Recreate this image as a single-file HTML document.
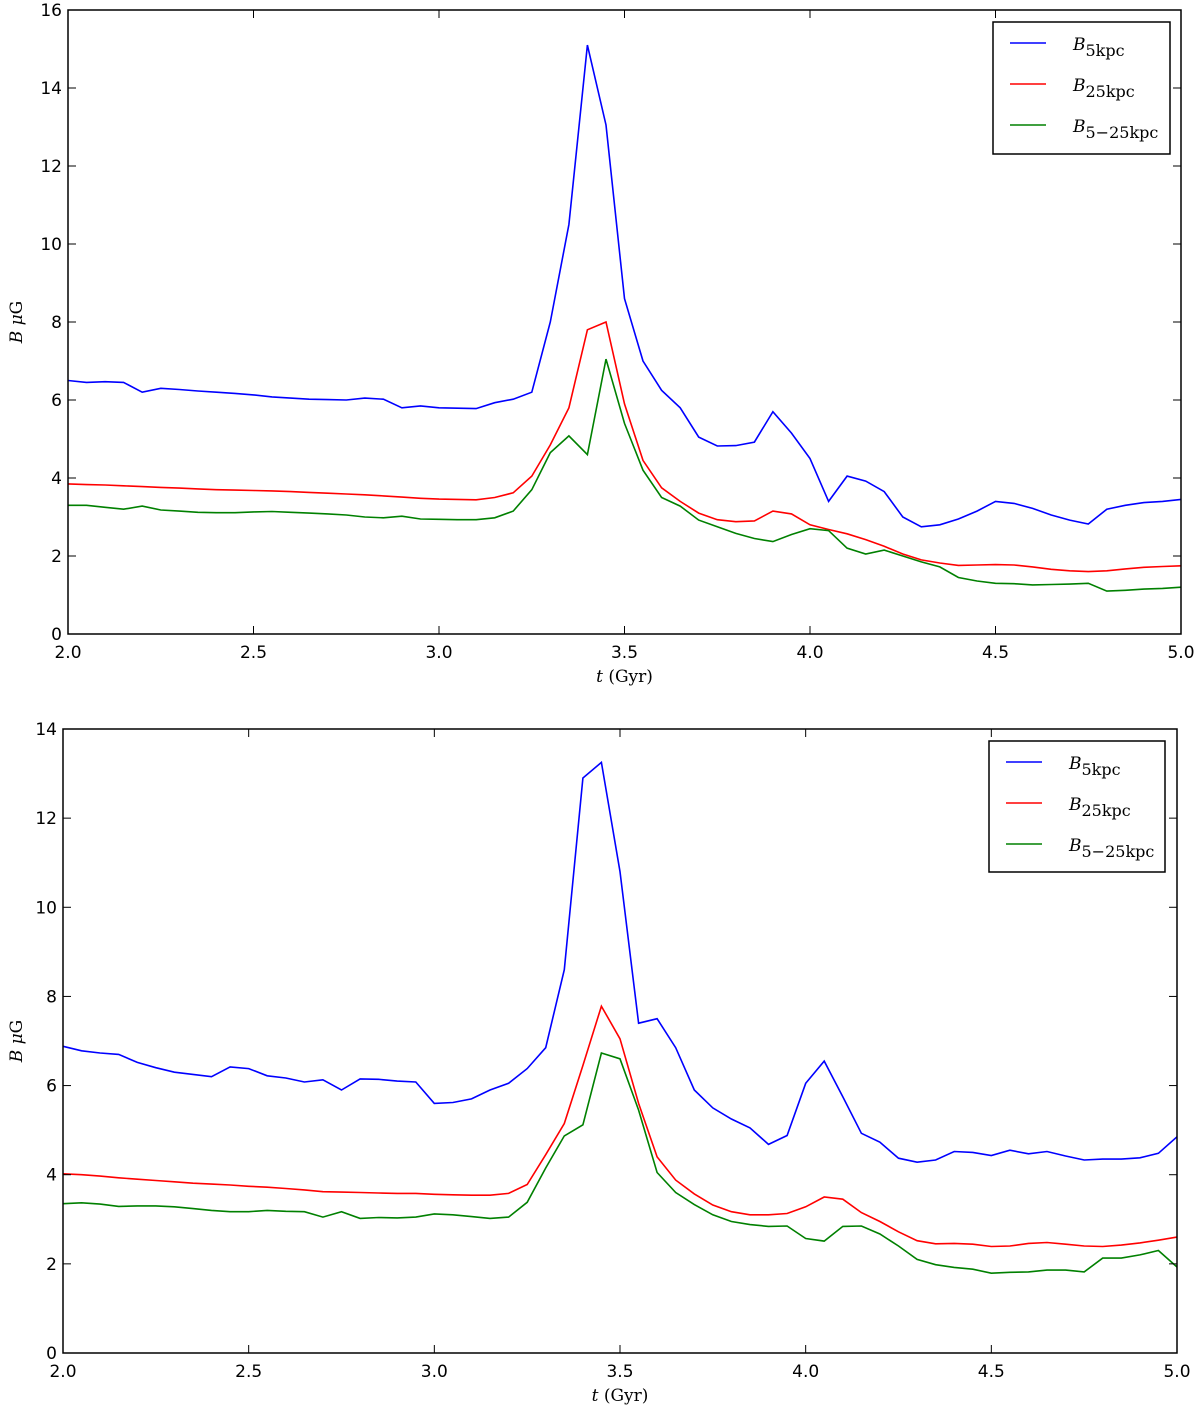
<!DOCTYPE html>
<html><head><meta charset="utf-8"><style>
body{margin:0;background:#fff;}
svg text{font-family:"DejaVu Sans","Liberation Sans",sans-serif;font-size:17px;fill:#000;}
.serif{font-family:"DejaVu Serif","Liberation Serif",serif;}
</style></head><body>
<svg id="chart" width="1200" height="1411" xmlns="http://www.w3.org/2000/svg"></svg>
<script>
const tStart = 2.0, tStep = 0.05;
const xTicks = [2.0,2.5,3.0,3.5,4.0,4.5,5.0];
const topYTicks = [0,2,4,6,8,10,12,14,16];
const botYTicks = [0,2,4,6,8,10,12,14];
const seriesNames = ["B5kpc","B25kpc","B5-25kpc"];
const colors = ["#0000ff","#ff0000","#008000"];
const top5 = [6.5,6.45,6.47,6.45,6.2,6.3,6.27,6.23,6.2,6.17,6.13,6.08,6.05,6.02,6.01,6.0,6.05,6.02,5.8,5.85,5.8,5.79,5.78,5.93,6.02,6.2,8.0,10.5,15.1,13.05,8.6,7.0,6.25,5.8,5.05,4.82,4.83,4.92,5.7,5.15,4.5,3.4,4.05,3.92,3.65,3.0,2.75,2.8,2.95,3.15,3.4,3.35,3.22,3.05,2.92,2.82,3.2,3.3,3.37,3.4,3.45];
const top25 = [3.85,3.83,3.82,3.8,3.78,3.76,3.74,3.72,3.7,3.69,3.68,3.67,3.65,3.63,3.61,3.59,3.57,3.54,3.51,3.48,3.46,3.45,3.44,3.5,3.62,4.05,4.85,5.8,7.8,8.0,5.9,4.45,3.75,3.4,3.1,2.93,2.88,2.9,3.15,3.08,2.8,2.68,2.57,2.42,2.25,2.05,1.9,1.82,1.76,1.77,1.78,1.77,1.72,1.66,1.62,1.6,1.62,1.67,1.71,1.73,1.75];
const top525 = [3.3,3.3,3.25,3.2,3.28,3.18,3.15,3.12,3.11,3.11,3.13,3.14,3.12,3.1,3.08,3.05,3.0,2.98,3.02,2.95,2.94,2.93,2.93,2.98,3.15,3.7,4.65,5.08,4.6,7.05,5.4,4.2,3.5,3.28,2.92,2.75,2.58,2.45,2.37,2.55,2.7,2.65,2.2,2.05,2.15,2.0,1.85,1.72,1.45,1.36,1.3,1.29,1.26,1.27,1.28,1.3,1.1,1.12,1.15,1.17,1.2];
const bot5 = [6.88,6.78,6.73,6.7,6.52,6.4,6.3,6.25,6.2,6.42,6.38,6.22,6.17,6.08,6.13,5.9,6.15,6.14,6.1,6.08,5.6,5.62,5.7,5.9,6.05,6.38,6.85,8.6,12.9,13.25,10.8,7.4,7.5,6.85,5.9,5.5,5.25,5.05,4.68,4.88,6.05,6.55,5.75,4.93,4.73,4.37,4.28,4.33,4.52,4.5,4.43,4.55,4.47,4.52,4.42,4.33,4.35,4.35,4.38,4.48,4.85];
const bot25 = [4.02,4.0,3.97,3.93,3.9,3.87,3.84,3.81,3.79,3.77,3.74,3.72,3.69,3.66,3.62,3.61,3.6,3.59,3.58,3.58,3.56,3.55,3.54,3.54,3.58,3.78,4.45,5.15,6.45,7.78,7.05,5.6,4.4,3.88,3.57,3.32,3.17,3.1,3.1,3.13,3.28,3.5,3.45,3.15,2.95,2.72,2.52,2.45,2.46,2.44,2.39,2.4,2.46,2.48,2.44,2.4,2.39,2.42,2.47,2.53,2.6];
const bot525 = [3.35,3.37,3.34,3.29,3.3,3.3,3.28,3.24,3.2,3.17,3.17,3.2,3.18,3.17,3.05,3.17,3.02,3.04,3.03,3.05,3.12,3.1,3.06,3.02,3.05,3.38,4.15,4.87,5.12,6.73,6.6,5.45,4.05,3.6,3.33,3.1,2.95,2.88,2.84,2.85,2.57,2.51,2.84,2.85,2.67,2.4,2.1,1.98,1.92,1.88,1.79,1.81,1.82,1.86,1.86,1.82,2.13,2.13,2.2,2.3,1.93];

const NS="http://www.w3.org/2000/svg";
const svg=document.getElementById('chart');
function mk(tag,attrs,parent){const e=document.createElementNS(NS,tag);for(const k in attrs)e.setAttribute(k,attrs[k]);(parent||svg).appendChild(e);return e;}

function panel(id,x0,x1,y0,y1,ymax,yTicks,data,legend){
  const g=mk('g',{});
  
  
  const X=t=>x0+(t-2)/(3)*(x1-x0);
  const Y=v=>y1-v/ymax*(y1-y0);
  data.forEach((arr,si)=>{
    const pts=arr.map((v,i)=>X(tStart+i*tStep).toFixed(1)+','+Y(v).toFixed(1)).join(' ');
    const p=mk('polyline',{points:pts,fill:'none',stroke:colors[si],'stroke-width':1.6,'stroke-linejoin':'miter'},g);
    
    
  });
  const r=mk('rect',{x:x0,y:y0,width:x1-x0,height:y1-y0,fill:'none',stroke:'#000','stroke-width':1.5},g);
  
  
  xTicks.forEach(t=>{
    const x=X(t);
    mk('line',{x1:x,x2:x,y1:y1,y2:y1-8,stroke:'#000','stroke-width':1},g);
    mk('line',{x1:x,x2:x,y1:y0,y2:y0+8,stroke:'#000','stroke-width':1},g);
    const tx=mk('text',{x:x,y:y1+24,'text-anchor':'middle'},g);
    tx.textContent=t.toFixed(1);
    
    
  });
  yTicks.forEach(v=>{
    const y=Y(v);
    mk('line',{x1:x0,x2:x0+8,y1:y,y2:y,stroke:'#000','stroke-width':1},g);
    mk('line',{x1:x1,x2:x1-8,y1:y,y2:y,stroke:'#000','stroke-width':1},g);
    const tx=mk('text',{x:x0-6,y:y+6,'text-anchor':'end'},g);
    tx.textContent=v;
    
    
  });
  const xl=mk('text',{x:(x0+x1)/2,y:y1+48,'text-anchor':'middle','class':'serif','font-size':'17'},g);
  xl.innerHTML='<tspan font-style="italic">t</tspan> (Gyr)';
  
  
  const yl=mk('text',{x:0,y:0,'text-anchor':'middle','class':'serif','font-size':'17',transform:`translate(22,${(y0+y1)/2}) rotate(-90)`},g);
  yl.innerHTML='<tspan font-style="italic">B μ</tspan>G';
  
  
  const [lx,ly,lw,lh]=legend;
  const lg=mk('g',{},g);
  
  
  mk('rect',{x:lx,y:ly,width:lw,height:lh,fill:'#fff',stroke:'#000','stroke-width':1.5},lg);
  const subs=['5kpc','25kpc','5−25kpc'];
  subs.forEach((s,i)=>{
    const yy=ly+21+i*41;
    mk('line',{x1:lx+17,x2:lx+53,y1:yy,y2:yy,stroke:colors[i],'stroke-width':1.6},lg);
    const t=mk('text',{x:lx+80,y:yy+7,'class':'serif','font-size':'24'},lg);
    t.innerHTML='<tspan font-style="italic">B</tspan><tspan font-size="16" dy="6">'+s+'</tspan>';
    
    
  });
}
panel('top-panel',68,1181,10,634,16,topYTicks,[top5,top25,top525],[993,22,177,132]);
panel('bottom-panel',63,1177,729,1353,14,botYTicks,[bot5,bot25,bot525],[989,741,176,131]);
</script>
</body></html>
